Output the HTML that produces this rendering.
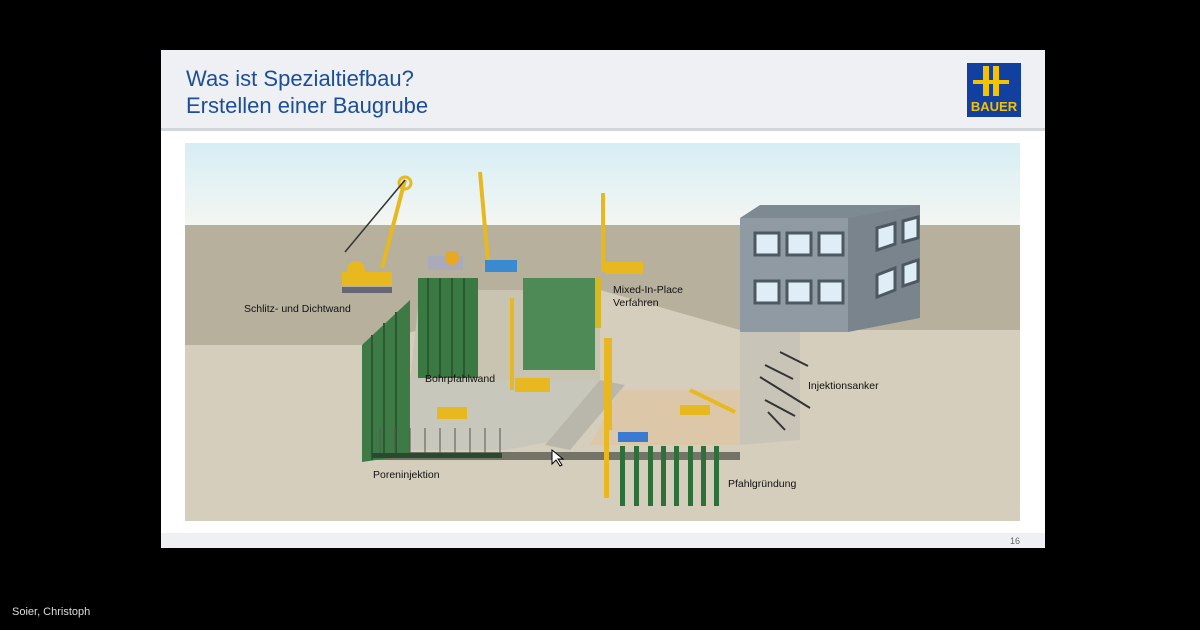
<!DOCTYPE html>
<html><head><meta charset="utf-8"><style>
body{margin:0;width:1200px;height:630px;background:#000;overflow:hidden;font-family:"Liberation Sans",sans-serif}
.t{position:absolute;left:186px;color:#1c4e9a;font-size:22px}
</style></head><body>
<div style="position:absolute;left:161px;top:50px;width:884px;height:498px;background:#fff"></div>
<div style="position:absolute;left:161px;top:50px;width:884px;height:78px;background:#eef0f3;border-bottom:3px solid #d2d6dc"></div>
<div class="t" style="top:66px">Was ist Spezialtiefbau?</div>
<div class="t" style="top:93px">Erstellen einer Baugrube</div>
<div style="position:absolute;left:967px;top:63px;width:54px;height:54px;background:#1240a0"></div>
<div style="position:absolute;left:983px;top:66px;width:6px;height:30px;background:#f3c200"></div>
<div style="position:absolute;left:993px;top:66px;width:6px;height:30px;background:#f3c200"></div>
<div style="position:absolute;left:973px;top:80px;width:36px;height:4px;background:#f3c200"></div>
<div style="position:absolute;left:967px;top:99px;width:54px;text-align:center;color:#f3c200;font-weight:bold;font-size:13px">BAUER</div>
<div style="position:absolute;left:161px;top:533px;width:884px;height:15px;background:#eef0f3"></div>
<div style="position:absolute;left:1010px;top:536px;font-size:9px;color:#666">16</div>
<div style="position:absolute;left:12px;top:606px;font-size:11px;color:#ddd">Soier, Christoph</div>
<svg style="position:absolute;left:185px;top:143px" width="835" height="378" viewBox="185 143 835 378">
<defs><linearGradient id="s" x1="0" y1="0" x2="0" y2="1"><stop offset="0" stop-color="#d6eef5"/><stop offset="1" stop-color="#f4f6f2"/></linearGradient></defs>
<rect x="185" y="143" width="835" height="378" fill="#d6cebd"/>
<rect x="185" y="143" width="835" height="82" fill="url(#s)"/>
<polygon points="185,225 1020,225 1020,330 740,330 600,290 420,330 360,345 185,345" fill="#b6b09d"/>
<polygon points="410,380 600,380 600,290 420,290" fill="#c9c3b2"/>
<polygon points="370,430 410,380 600,380 560,440 505,450 370,450" fill="#c8c7bb"/>
<polygon points="600,380 625,385 570,450 545,445" fill="#b9b7ac"/>
<polygon points="620,390 740,390 740,445 590,445" fill="#dcc7a8"/>
<polygon points="740,330 800,330 800,440 740,445" fill="#c8c5b8"/>
<rect x="370" y="452" width="370" height="8" fill="#747368"/>
<polygon points="362,345 410,300 410,455 362,462" fill="#3e7a45"/>
<g stroke="#2a5a30" stroke-width="2"><line x1="372" y1="335" x2="372" y2="460"/><line x1="384" y1="323" x2="384" y2="458"/><line x1="396" y1="312" x2="396" y2="456"/></g>
<rect x="418" y="278" width="60" height="100" fill="#3a7a42"/>
<g stroke="#2a5a30" stroke-width="2"><line x1="428" y1="278" x2="428" y2="378"/><line x1="440" y1="278" x2="440" y2="378"/><line x1="452" y1="278" x2="452" y2="378"/><line x1="464" y1="278" x2="464" y2="378"/></g>
<rect x="523" y="278" width="72" height="92" fill="#4e8a56"/>
<rect x="595" y="278" width="6" height="50" fill="#d8b820"/>
<g stroke="#555" stroke-width="1"><line x1="380" y1="428" x2="380" y2="455"/><line x1="395" y1="428" x2="395" y2="455"/><line x1="410" y1="428" x2="410" y2="455"/><line x1="425" y1="428" x2="425" y2="455"/><line x1="440" y1="428" x2="440" y2="455"/><line x1="455" y1="428" x2="455" y2="455"/><line x1="470" y1="428" x2="470" y2="455"/><line x1="485" y1="428" x2="485" y2="455"/><line x1="500" y1="428" x2="500" y2="455"/></g>
<rect x="372" y="453" width="130" height="5" fill="#2a4a30"/>
<g fill="#2f6f3a"><rect x="620" y="446" width="5" height="60"/><rect x="634" y="446" width="5" height="60"/><rect x="648" y="446" width="5" height="60"/><rect x="661" y="446" width="5" height="60"/><rect x="674" y="446" width="5" height="60"/><rect x="688" y="446" width="5" height="60"/><rect x="701" y="446" width="5" height="60"/><rect x="714" y="446" width="5" height="60"/></g>
<rect x="604" y="338" width="5" height="160" fill="#e8b820"/>
<polygon points="740,218 760,205 920,205 900,218" fill="#7e8a92"/>
<rect x="740" y="218" width="108" height="114" fill="#8f9aa2"/>
<polygon points="848,218 920,205 920,318 848,332" fill="#79848c"/>
<g fill="#dfeef6" stroke="#4e5860" stroke-width="3"><rect x="755" y="233" width="24" height="22"/><rect x="787" y="233" width="24" height="22"/><rect x="819" y="233" width="24" height="22"/><rect x="755" y="281" width="24" height="22"/><rect x="787" y="281" width="24" height="22"/><rect x="819" y="281" width="24" height="22"/>
<polygon points="877,228 895,223 895,244 877,250"/><polygon points="903,221 918,217 918,238 903,242"/><polygon points="877,275 895,268 895,290 877,297"/><polygon points="903,265 918,260 918,281 903,286"/></g>
<g stroke="#333" stroke-width="2"><line x1="780" y1="352" x2="808" y2="366"/><line x1="765" y1="365" x2="793" y2="379"/><line x1="760" y1="377" x2="810" y2="408"/><line x1="765" y1="400" x2="795" y2="416"/><line x1="768" y1="412" x2="785" y2="430"/></g>
<g stroke="#e8b820" stroke-width="4" fill="none"><line x1="382" y1="268" x2="405" y2="180"/><line x1="480" y1="172" x2="488" y2="262"/><line x1="603" y1="193" x2="603" y2="272"/><line x1="512" y1="298" x2="512" y2="390"/><line x1="610" y1="338" x2="610" y2="430"/><line x1="690" y1="390" x2="735" y2="412"/></g>
<circle cx="405" cy="183" r="6" fill="none" stroke="#e8b820" stroke-width="3"/>
<line x1="345" y1="252" x2="405" y2="180" stroke="#333" stroke-width="1.5"/>
<circle cx="356" cy="270" r="9" fill="#e8b820"/>
<rect x="342" y="272" width="50" height="14" fill="#e8b820"/><rect x="342" y="287" width="50" height="6" fill="#667"/>
<rect x="428" y="256" width="35" height="14" fill="#aab"/><circle cx="452" cy="258" r="7" fill="#e8a820"/>
<rect x="485" y="260" width="32" height="12" fill="#3a8ad0"/>
<rect x="605" y="262" width="38" height="12" fill="#e8b820"/>
<rect x="515" y="378" width="35" height="14" fill="#e8b820"/>
<rect x="437" y="407" width="30" height="12" fill="#e8b820"/>
<rect x="680" y="405" width="30" height="10" fill="#e8b820"/>
<rect x="618" y="432" width="30" height="10" fill="#3a7ad0"/>
<g font-size="10.5" fill="#111" font-family="Liberation Sans,sans-serif">
<text x="244" y="312">Schlitz- und Dichtwand</text>
<text x="425" y="382">Bohrpfahlwand</text>
<text x="613" y="293">Mixed-In-Place</text><text x="613" y="306">Verfahren</text>
<text x="808" y="389">Injektionsanker</text>
<text x="373" y="478">Poreninjektion</text>
<text x="728" y="487">Pfahlgründung</text>
</g>
<polygon points="552,450 552,464 556,460 560,466 562,465 558,459 563,459" fill="#fff" stroke="#000" stroke-width="1"/>
</svg>
</body></html>
